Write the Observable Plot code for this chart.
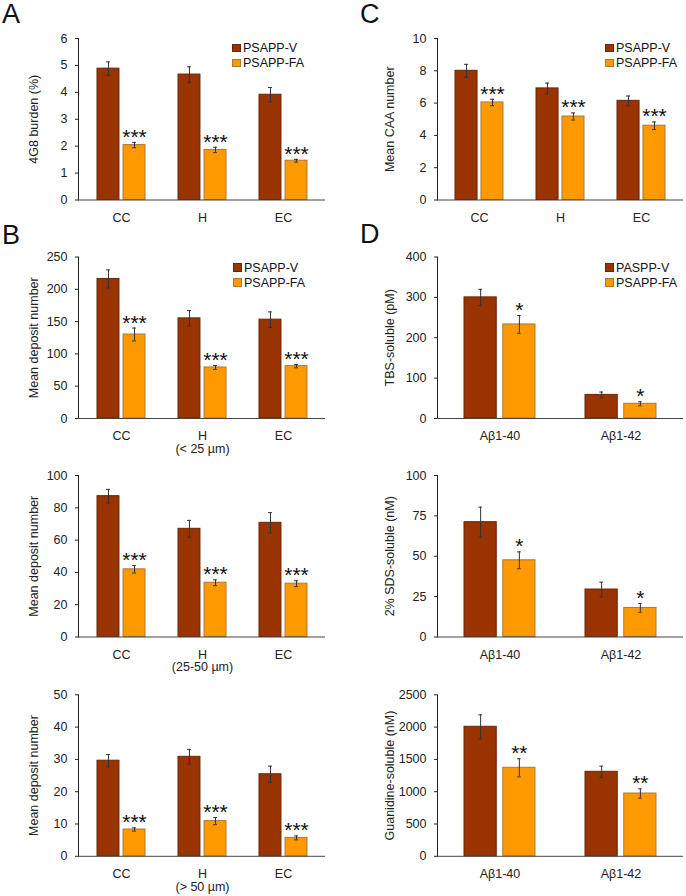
<!DOCTYPE html>
<html><head><meta charset="utf-8">
<script src="https://cdn.jsdelivr.net/npm/d3@7"></script>
<script src="https://cdn.jsdelivr.net/npm/@observablehq/plot@0.6"></script>
<style>
body{margin:0;background:#fff;}
#fig{position:relative;width:686px;height:896px;font-family:"Liberation Sans",Arial,sans-serif;color:#111;overflow:hidden;}
.p{position:absolute;}
.letter{position:absolute;font-size:27px;line-height:1;color:#111;}
.leg{position:absolute;font-size:12.5px;}
.leg div{display:flex;align-items:center;height:15px;}
.sw{width:8.5px;height:8.5px;margin-right:2.5px;box-sizing:border-box;border:1px solid;}
</style></head><body><div id="fig"></div>
<script>
// ---------- data ----------
const regions = ["CC", "H", "EC"];
const peptides = ["Aβ1-40", "Aβ1-42"];
const seriesNames = ["PSAPP-V", "PSAPP-FA"];
const seriesNamesD = ["PASPP-V", "PSAPP-FA"];

const aV = [4.88, 4.66, 3.91], aVerr = [0.25, 0.29, 0.27];
const aFA = [2.04, 1.86, 1.46], aFAerr = [0.10, 0.10, 0.05];
const aTicks = [0, 1, 2, 3, 4, 5, 6];

const cV = [8.0, 6.91, 6.14], cVerr = [0.40, 0.33, 0.30];
const cFA = [6.04, 5.17, 4.60], cFAerr = [0.20, 0.22, 0.23];
const cTicks = [0, 2, 4, 6, 8, 10];

const b1V = [216, 155, 153], b1Verr = [14, 12, 12];
const b1FA = [130, 79, 81], b1FAerr = [10, 3, 2.5];
const b1Ticks = [0, 50, 100, 150, 200, 250];

const b2V = [87.2, 67.0, 70.7], b2Verr = [4.2, 5.2, 6.3];
const b2FA = [41.9, 33.6, 33.0], b2FAerr = [2.3, 1.8, 1.8];
const b2Ticks = [0, 20, 40, 60, 80, 100];

const b3V = [29.6, 30.8, 25.4], b3Verr = [1.9, 2.3, 2.5];
const b3FA = [8.3, 10.9, 5.7], b3FAerr = [0.5, 1.1, 0.6];
const b3Ticks = [0, 10, 20, 30, 40, 50];

const d1V = [300, 58.5], d1Verr = [20, 7];
const d1FA = [233, 36.5], d1FAerr = [22, 5];
const d1Ticks = [0, 100, 200, 300, 400];

const d2V = [71.1, 29.4], d2Verr = [9.3, 4.5];
const d2FA = [47.5, 18.0], d2FAerr = [5.2, 2.7];
const d2Ticks = [0, 25, 50, 75, 100];

const d3V = [2005, 1308], d3Verr = [185, 87];
const d3FA = [1370, 972], d3FAerr = [140, 72];
const d3Ticks = [0, 500, 1000, 1500, 2000, 2500];

const hLabelsB1 = ["CC", "H\n(< 25 µm)", "EC"];
const hLabelsB2 = ["CC", "H\n(25-50 µm)", "EC"];
const hLabelsB3 = ["CC", "H\n(> 50 µm)", "EC"];

// ---------- style ----------
const darkFill = "#993300", darkStroke = "#6a2608";
const orFill = "#ff9900", orStroke = "#a9793a";
const FONT = "'Liberation Sans', Arial, sans-serif";
const fig = document.getElementById("fig");

function panel({left, top, mL, mR, mT, cats, labels, V, Ve, FA, FAe, ticks, ylabel, star, gap, labelDx}) {
  const W = 343, FH = 161.5, MB = 42;
  const pi = 0.41, po = 0.22;
  const step = (W - mL - mR) / (cats.length - pi + 2 * po);
  const bw = step * (1 - pi);
  const off = (bw + gap) / 4;
  const half = (bw + gap) / 2;
  const dv = cats.map((c, i) => ({cat: c, v: V[i], e: Ve[i]}));
  const df = cats.map((c, i) => ({cat: c, v: FA[i], e: FAe[i]}));
  const capIn = bw / 2 - 2;
  const err = (data, dx) => [
    Plot.ruleX(data, {x: "cat", y1: d => d.v - d.e, y2: d => d.v + d.e, dx, stroke: "#333", strokeWidth: 1}),
    Plot.tickY(data, {x: "cat", y: d => d.v + d.e, dx, insetLeft: capIn, insetRight: capIn, stroke: "#333", strokeWidth: 1}),
    Plot.tickY(data, {x: "cat", y: d => d.v - d.e, dx, insetLeft: capIn, insetRight: capIn, stroke: "#333", strokeWidth: 1})
  ];
  const svg = Plot.plot({
    width: W, height: mT + FH + MB,
    marginLeft: mL, marginRight: mR, marginTop: mT, marginBottom: MB,
    style: {fontFamily: FONT, fontSize: "12.5px", color: "#222", background: "none", overflow: "visible"},
    x: {domain: cats, paddingInner: pi, paddingOuter: po, tickSize: 0, tickPadding: 13, label: null,
        tickFormat: c => labels[cats.indexOf(c)]},
    y: {domain: [0, ticks[ticks.length - 1]], ticks: ticks, tickSize: 3, tickPadding: 8, label: null, line: true,
        tickFormat: d => String(d)},
    marks: [
      Plot.barY(dv, {x: "cat", y: "v", insetRight: half, fill: darkFill, stroke: darkStroke, strokeWidth: 1}),
      Plot.barY(df, {x: "cat", y: "v", insetLeft: half, fill: orFill, stroke: orStroke, strokeWidth: 1}),
      ...err(dv, -off),
      ...err(df, off),
      Plot.text(df, {x: "cat", y: d => d.v + d.e, dx: off, dy: 1.5, text: () => star, lineAnchor: "bottom",
        fontSize: 21, fill: "#111"}),
      Plot.ruleY([0], {stroke: "#444"}),
      Plot.text([ylabel], {frameAnchor: "left", dx: labelDx, rotate: -90, text: d => d, textAnchor: "middle",
        lineAnchor: "middle", fontSize: 12.5, fill: "#222"})
    ]
  });
  const wrap = document.createElement("div");
  wrap.className = "p";
  wrap.style.left = left + "px";
  wrap.style.top = top + "px";
  wrap.appendChild(svg);
  fig.appendChild(wrap);
}

function letter(t, left, top) {
  const d = document.createElement("div");
  d.className = "letter"; d.textContent = t;
  d.style.left = left + "px"; d.style.top = top + "px";
  fig.appendChild(d);
}
function legend(names, left, top) {
  const d = document.createElement("div");
  d.className = "leg"; d.style.left = left + "px"; d.style.top = top + "px";
  const cols = [[darkFill, darkStroke], [orFill, orStroke]];
  names.forEach((n, i) => {
    const r = document.createElement("div");
    const s = document.createElement("span"); s.className = "sw";
    s.style.background = cols[i][0]; s.style.borderColor = cols[i][1];
    const t = document.createElement("span"); t.textContent = n;
    r.appendChild(s); r.appendChild(t); d.appendChild(r);
  });
  fig.appendChild(d);
}

const L = {left: 0, mL: 78, mR: 18, labelDx: -45};
const R = {left: 343, mL: 94, mR: 3, labelDx: -48};

panel({...L, top: 0, mT: 38, cats: regions, labels: regions, V: aV, Ve: aVerr, FA: aFA, FAe: aFAerr,
  ticks: aTicks, ylabel: "4G8 burden (%)", star: "***", gap: 4});
panel({...R, top: 0, mT: 38, cats: regions, labels: regions, V: cV, Ve: cVerr, FA: cFA, FAe: cFAerr,
  ticks: cTicks, ylabel: "Mean CAA number", star: "***", gap: 4});
panel({...L, top: 220, mT: 36.5, cats: regions, labels: hLabelsB1, V: b1V, Ve: b1Verr, FA: b1FA, FAe: b1FAerr,
  ticks: b1Ticks, ylabel: "Mean deposit number", star: "***", gap: 4});
panel({...R, top: 220, mT: 36.5, cats: peptides, labels: peptides, V: d1V, Ve: d1Verr, FA: d1FA, FAe: d1FAerr,
  ticks: d1Ticks, ylabel: "TBS-soluble (pM)", star: "*", gap: 6});
panel({...L, top: 450, mT: 25, cats: regions, labels: hLabelsB2, V: b2V, Ve: b2Verr, FA: b2FA, FAe: b2FAerr,
  ticks: b2Ticks, ylabel: "Mean deposit number", star: "***", gap: 4});
panel({...R, top: 450, mT: 25, cats: peptides, labels: peptides, V: d2V, Ve: d2Verr, FA: d2FA, FAe: d2FAerr,
  ticks: d2Ticks, ylabel: "2% SDS-soluble (nM)", star: "*", gap: 6});
panel({...L, top: 670, mT: 24.3, cats: regions, labels: hLabelsB3, V: b3V, Ve: b3Verr, FA: b3FA, FAe: b3FAerr,
  ticks: b3Ticks, ylabel: "Mean deposit number", star: "***", gap: 4});
panel({...R, top: 670, mT: 24.3, cats: peptides, labels: peptides, V: d3V, Ve: d3Verr, FA: d3FA, FAe: d3FAerr,
  ticks: d3Ticks, ylabel: "Guanidine-soluble (nM)", star: "**", gap: 6});

letter("A", 2, 0.5); letter("C", 360, 0.5); letter("B", 2, 221.5); letter("D", 360, 221);
legend(seriesNames, 232, 40.5);
legend(seriesNames, 605, 40.5);
legend(seriesNames, 233, 260);
legend(seriesNamesD, 605, 260);
</script></body></html>
